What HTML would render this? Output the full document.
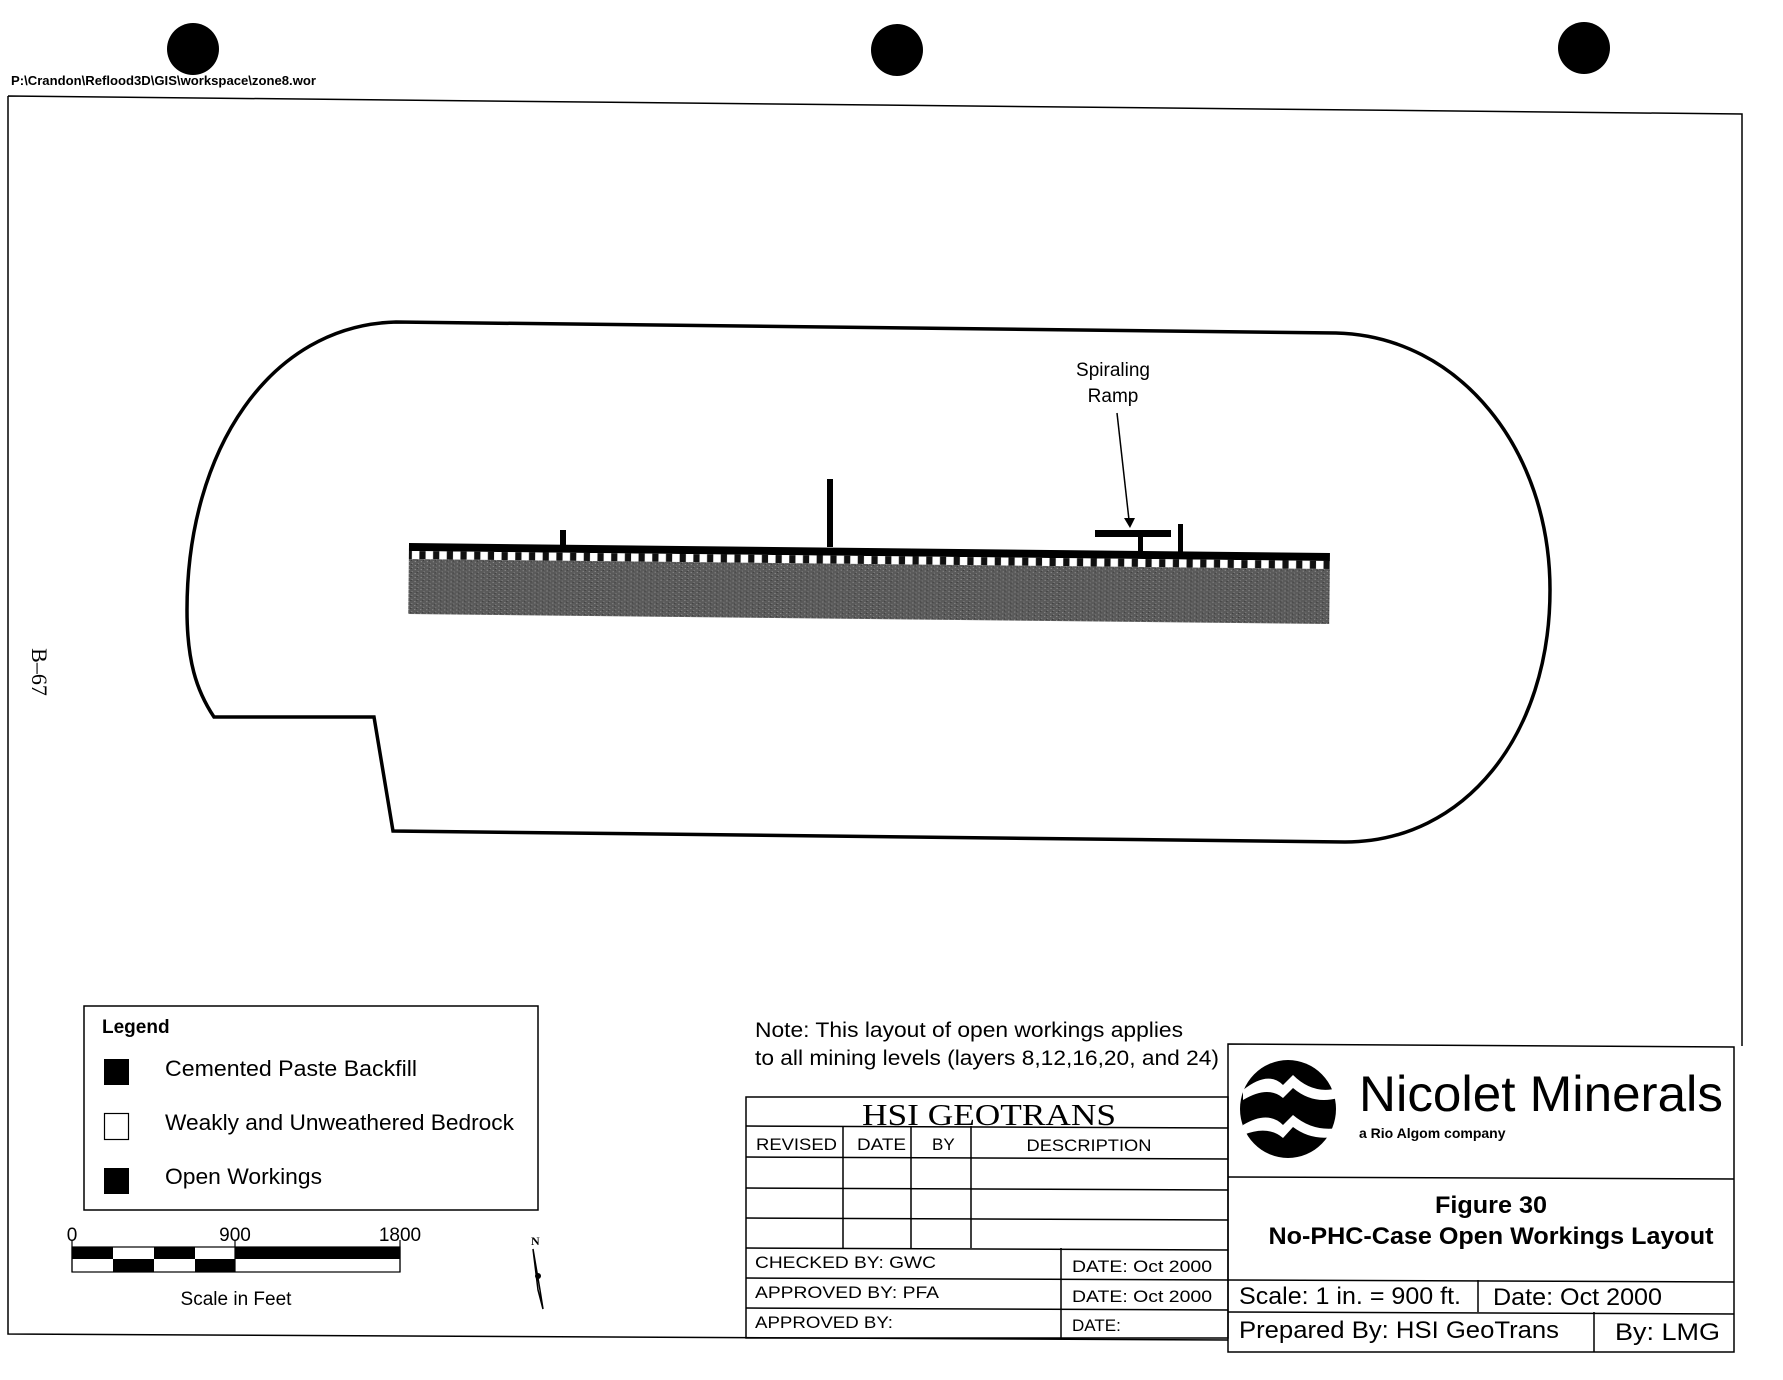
<!DOCTYPE html>
<html><head><meta charset="utf-8"><style>
html,body{margin:0;padding:0;background:#fff;}
svg{display:block;}
text{font-family:"Liberation Sans",Arial,sans-serif;fill:#000;}
</style></head><body>
<svg width="1783" height="1380" viewBox="0 0 1783 1380" xmlns="http://www.w3.org/2000/svg">
<defs>
<pattern id="sq" x="409" y="0" width="13.7" height="20" patternUnits="userSpaceOnUse">
<rect x="0" y="0" width="13.7" height="20" fill="#111"/>
<rect x="3" y="0" width="7.5" height="20" fill="#fff"/>
</pattern>
<pattern id="noise" width="6" height="4" patternUnits="userSpaceOnUse">
<rect width="6" height="4" fill="#5a5a5a"/>
<rect x="1" y="1" width="1" height="1" fill="#9a9a9a"/>
<rect x="4" y="3" width="1" height="1" fill="#8a8a8a"/>
<rect x="3" y="0" width="1" height="1" fill="#333"/>
</pattern>
</defs>
<circle cx="193" cy="49" r="26" fill="#000"/>
<circle cx="897" cy="50" r="26" fill="#000"/>
<circle cx="1584" cy="48" r="26" fill="#000"/>
<text x="11" y="85" font-size="12.5" font-weight="bold" textLength="305" lengthAdjust="spacingAndGlyphs">P:\Crandon\Reflood3D\GIS\workspace\zone8.wor</text>
<path d="M8,96 L1742,114 L1742,1046 M8,96 L8,1334 L1228,1340" fill="none" stroke="#000" stroke-width="1.5"/>
<text transform="translate(32,672) rotate(90)" font-size="22" text-anchor="middle" style="font-family:'Liberation Serif',serif">B–67</text>
<path d="M214,717 C196,690 187,660 187,610 C187,450 270,325 396,322 L1336,333 C1460,336 1550,450 1550,590 C1550,735 1465,842 1345,842 L393,831 L374,717 Z" fill="none" stroke="#000" stroke-width="3.5"/>
<g transform="rotate(0.62 409 544)">
<rect x="409" y="543" width="921" height="8" fill="#000"/>
<rect x="409" y="551" width="921" height="8" fill="url(#sq)"/>
<rect x="409" y="559" width="921" height="55" fill="url(#noise)"/>
</g>
<rect x="560" y="530" width="6" height="16" fill="#000"/>
<rect x="827" y="479" width="6" height="68" fill="#000"/>
<rect x="1095" y="530" width="76" height="7" fill="#000"/>
<rect x="1138" y="530" width="5" height="24" fill="#000"/>
<rect x="1178" y="524" width="5" height="30" fill="#000"/>
<line x1="1117" y1="413" x2="1129" y2="520" stroke="#000" stroke-width="1.5"/>
<polygon points="1124,518 1135,518 1130,528" fill="#000"/>
<text x="1113" y="376" font-size="19" text-anchor="middle">Spiraling</text>
<text x="1113" y="402" font-size="19" text-anchor="middle">Ramp</text>
<rect x="84" y="1006" width="454" height="204" fill="none" stroke="#000" stroke-width="1.5"/>
<text x="102" y="1033" font-size="19" font-weight="bold">Legend</text>
<rect x="104" y="1059" width="25" height="26" fill="#000"/>
<rect x="104.5" y="1113.5" width="24" height="26" fill="none" stroke="#000" stroke-width="1.2"/>
<rect x="104" y="1168" width="25" height="26" fill="#000"/>
<text x="165" y="1076" font-size="22" textLength="252" lengthAdjust="spacingAndGlyphs">Cemented Paste Backfill</text>
<text x="165" y="1130" font-size="22" textLength="349" lengthAdjust="spacingAndGlyphs">Weakly and Unweathered Bedrock</text>
<text x="165" y="1184" font-size="22" textLength="157" lengthAdjust="spacingAndGlyphs">Open Workings</text>
<rect x="72" y="1247" width="328" height="25" fill="none" stroke="#000" stroke-width="1.2"/>
<rect x="72" y="1247" width="41" height="12" fill="#000"/>
<rect x="154" y="1247" width="41" height="12" fill="#000"/>
<rect x="113" y="1259" width="41" height="13" fill="#000"/>
<rect x="195" y="1259" width="40" height="13" fill="#000"/>
<rect x="235" y="1247" width="165" height="12" fill="#000"/>
<line x1="235" y1="1240" x2="235" y2="1272" stroke="#000" stroke-width="1.2"/>
<line x1="72" y1="1240" x2="72" y2="1272" stroke="#000" stroke-width="1.2"/>
<line x1="400" y1="1240" x2="400" y2="1272" stroke="#000" stroke-width="1.2"/>
<text x="72" y="1241" font-size="19" text-anchor="middle">0</text>
<text x="235" y="1241" font-size="19" text-anchor="middle">900</text>
<text x="400" y="1241" font-size="19" text-anchor="middle">1800</text>
<text x="236" y="1305" font-size="19" text-anchor="middle">Scale in Feet</text>
<text x="531" y="1245" font-size="12" font-weight="bold" style="font-family:'Liberation Serif',serif">N</text>
<path d="M533,1249 L538,1290 L543,1309 L540,1290 Z" fill="none" stroke="#000" stroke-width="1.5"/>
<circle cx="538" cy="1276" r="3" fill="#000"/>
<text x="755" y="1037" font-size="21" textLength="428" lengthAdjust="spacingAndGlyphs">Note: This layout of open workings applies</text>
<text x="755" y="1065" font-size="21" textLength="464" lengthAdjust="spacingAndGlyphs">to all mining levels (layers 8,12,16,20, and 24)</text>
<g fill="none" stroke="#000" stroke-width="1.5">
<rect x="746" y="1097" width="482" height="241"/>
<line x1="746" y1="1126" x2="1228" y2="1128"/>
<line x1="746" y1="1157" x2="1228" y2="1159"/>
<line x1="746" y1="1188" x2="1228" y2="1190"/>
<line x1="746" y1="1218" x2="1228" y2="1220"/>
<line x1="746" y1="1248" x2="1228" y2="1250"/>
<line x1="746" y1="1278" x2="1228" y2="1280"/>
<line x1="746" y1="1308" x2="1228" y2="1310"/>
<line x1="843" y1="1126" x2="843" y2="1248"/>
<line x1="911" y1="1126" x2="911" y2="1248"/>
<line x1="971" y1="1126" x2="971" y2="1248"/>
<line x1="1061" y1="1248" x2="1061" y2="1338"/>
</g>
<text x="989" y="1125" font-size="31" text-anchor="middle" textLength="254" lengthAdjust="spacingAndGlyphs" style="font-family:'Liberation Serif',serif">HSI GEOTRANS</text>
<text x="756" y="1150" font-size="17" textLength="81" lengthAdjust="spacingAndGlyphs">REVISED</text>
<text x="857" y="1150" font-size="17" textLength="49" lengthAdjust="spacingAndGlyphs">DATE</text>
<text x="932" y="1150" font-size="17">BY</text>
<text x="1089" y="1151" font-size="17" text-anchor="middle" textLength="125" lengthAdjust="spacingAndGlyphs">DESCRIPTION</text>
<text x="755" y="1268" font-size="17" textLength="181" lengthAdjust="spacingAndGlyphs">CHECKED BY:  GWC</text>
<text x="755" y="1298" font-size="17" textLength="184" lengthAdjust="spacingAndGlyphs">APPROVED BY:  PFA</text>
<text x="755" y="1328" font-size="17" textLength="138" lengthAdjust="spacingAndGlyphs">APPROVED BY:</text>
<text x="1072" y="1272" font-size="17" textLength="140" lengthAdjust="spacingAndGlyphs">DATE:  Oct 2000</text>
<text x="1072" y="1302" font-size="17" textLength="140" lengthAdjust="spacingAndGlyphs">DATE:  Oct 2000</text>
<text x="1072" y="1331" font-size="17">DATE:</text>
<g fill="none" stroke="#000" stroke-width="1.5">
<path d="M1228,1044 L1734,1047 L1734,1352 L1228,1352 Z"/>
<line x1="1228" y1="1177" x2="1734" y2="1179"/>
<line x1="1228" y1="1280" x2="1734" y2="1282"/>
<line x1="1228" y1="1312" x2="1734" y2="1314"/>
<line x1="1478" y1="1280" x2="1478" y2="1312"/>
<line x1="1594" y1="1312" x2="1594" y2="1352"/>
</g>
<ellipse cx="1288" cy="1109" rx="48" ry="49" fill="#000"/>
<path d="M1243,1090 Q1268,1070 1283,1085 L1293,1075 Q1313,1095 1338,1088 L1338,1098 Q1313,1105 1293,1088 L1283,1098 Q1268,1085 1243,1100 Z" fill="#fff"/>
<path d="M1243,1125 Q1268,1110 1283,1125 L1293,1115 Q1313,1132 1338,1128 L1338,1136 Q1313,1142 1293,1127 L1283,1138 Q1268,1125 1243,1135 Z" fill="#fff"/>
<text x="1359" y="1111" font-size="50" textLength="364" lengthAdjust="spacingAndGlyphs">Nicolet Minerals</text>
<text x="1359" y="1138" font-size="14" font-weight="bold">a Rio Algom company</text>
<text x="1491" y="1213" font-size="24" font-weight="bold" text-anchor="middle" textLength="112" lengthAdjust="spacingAndGlyphs">Figure 30</text>
<text x="1491" y="1244" font-size="24" font-weight="bold" text-anchor="middle" textLength="445" lengthAdjust="spacingAndGlyphs">No-PHC-Case Open Workings Layout</text>
<text x="1239" y="1304" font-size="24" textLength="222" lengthAdjust="spacingAndGlyphs">Scale: 1 in. = 900 ft.</text>
<text x="1493" y="1305" font-size="24" textLength="169" lengthAdjust="spacingAndGlyphs">Date: Oct 2000</text>
<text x="1239" y="1338" font-size="24" textLength="320" lengthAdjust="spacingAndGlyphs">Prepared By:  HSI GeoTrans</text>
<text x="1615" y="1340" font-size="24" textLength="105" lengthAdjust="spacingAndGlyphs">By:  LMG</text>
</svg>
</body></html>
